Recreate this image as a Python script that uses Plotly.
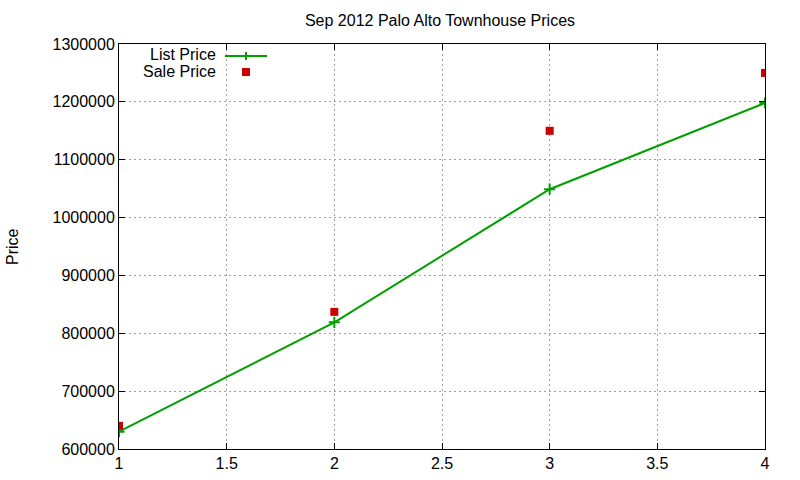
import plotly.graph_objects as go

# values
months = [1, 2, 3, 4]
list_price = [630000, 819000, 1049000, 1198000]
sale_price = [640000, 837000, 1150000, 1250000]

GREEN = "#00a000"
RED = "#cc0000"
FONT = "Liberation Sans, Arial, sans-serif"
FS = 16

# plot area in reference pixels: x 119..765, y 44..449
L, T, R, B = 119, 44, 800 - 765, 480 - 449

fig = go.Figure()

fig.add_trace(go.Scatter(
    x=months, y=list_price, name="List Price", mode="lines+markers",
    line=dict(color=GREEN, width=2),
    marker=dict(symbol="cross-thin", size=8, line=dict(color=GREEN, width=2)),
))
fig.add_trace(go.Scatter(
    x=months, y=sale_price, name="Sale Price", mode="markers",
    marker=dict(symbol="square", size=8, color=RED),
))

axis_common = dict(
    showgrid=True, gridcolor="#a0a0a0", griddash="2px,3px", gridwidth=1,
    showline=True, linecolor="black", linewidth=1, mirror="ticks",
    ticks="inside", ticklen=6, tickcolor="black", automargin=False,
    zeroline=False, tickfont=dict(family=FONT, size=FS, color="black"),
)

fig.update_xaxes(range=[1, 4], dtick=0.5, tick0=1, **axis_common)
fig.update_yaxes(range=[600000, 1300000], dtick=100000, tickformat="d",
                 **axis_common)


# reference pixel -> paper coordinates of the plot area
def px(xp):
    return (xp - L) / 646


def py_(yp):
    return (449 - yp) / 405


annotations = [dict(
    text="Price", xref="paper", yref="paper", x=px(12), y=py_(247),
    textangle=-90, showarrow=False, xanchor="center", yanchor="middle",
    font=dict(family=FONT, size=FS, color="black"),
)]

# gnuplot style key: text on the left, sample on the right
for label, yp in [("List Price", 55), ("Sale Price", 72)]:
    annotations.append(dict(
        text=label, xref="paper", yref="paper", x=px(218), y=py_(yp),
        xanchor="right", yanchor="middle", showarrow=False,
        font=dict(family=FONT, size=FS, color="black"),
    ))

shapes = [
    dict(type="line", xref="paper", yref="paper",
         x0=px(225), x1=px(267), y0=py_(56), y1=py_(56),
         line=dict(color=GREEN, width=2)),
    dict(type="line", xref="paper", yref="paper",
         x0=px(246), x1=px(246), y0=py_(52), y1=py_(60),
         line=dict(color=GREEN, width=2)),
    dict(type="rect", xref="paper", yref="paper",
         x0=px(242), x1=px(250), y0=py_(68), y1=py_(76),
         fillcolor=RED, line=dict(width=0)),
]

fig.update_layout(
    width=800, height=480,
    margin=dict(l=L, r=R, t=T, b=B),
    paper_bgcolor="white", plot_bgcolor="white",
    showlegend=False, hovermode=False,
    title=dict(text="Sep 2012 Palo Alto Townhouse Prices",
               x=440 / 800, xanchor="center",
               y=1 - 20 / 480, yanchor="middle",
               font=dict(family=FONT, size=FS, color="black")),
    shapes=shapes, annotations=annotations,
)

# drop the default 8px page margin so the figure fills the window
fig.write_html("out.html", config={"displayModeBar": False},
               post_script="document.body.style.margin='0px';")
